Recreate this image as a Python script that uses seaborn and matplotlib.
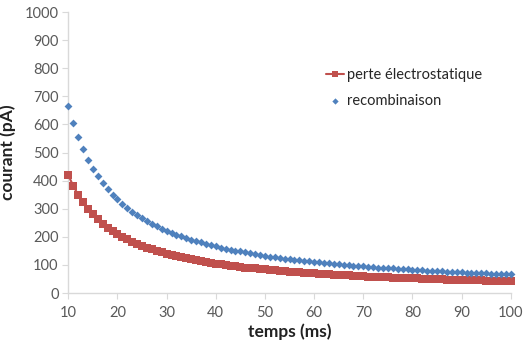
import numpy as np
import pandas as pd
import matplotlib
matplotlib.use("Agg")
import matplotlib.pyplot as plt
import seaborn as sns

# === Data ===
temps = list(range(10, 101))

perte = [420, 382, 350, 323, 300, 280, 263, 247, 233, 221,
         210, 200, 191, 183, 175, 168, 162, 156, 150, 145,
         140, 135, 131, 127, 124, 120, 117, 114, 111, 108,
         105, 102, 100, 98, 95, 93, 91, 89, 88, 86,
         84, 82, 81, 79, 78, 76, 75, 74, 72, 71,
         70, 69, 68, 67, 66, 65, 64, 63, 62, 61,
         60, 59, 58, 58, 57, 56, 55, 55, 54, 53,
         53, 52, 51, 51, 50, 49, 49, 48, 48, 47,
         47, 46, 46, 45, 45, 44, 44, 43, 43, 42,
         42]

recomb = [665, 605, 554, 512, 475, 443, 416, 391, 369, 350,
          333, 317, 302, 289, 277, 266, 256, 246, 238, 229,
          222, 215, 208, 202, 196, 190, 185, 180, 175, 171,
          166, 162, 158, 155, 151, 148, 145, 141, 139, 136,
          133, 130, 128, 125, 123, 121, 119, 117, 115, 113,
          111, 109, 107, 106, 104, 102, 101, 99, 98, 96,
          95, 94, 92, 91, 90, 89, 88, 86, 85, 84,
          83, 82, 81, 80, 79, 78, 77, 76, 76, 75,
          74, 73, 72, 72, 71, 70, 69, 69, 68, 67,
          67]

df = pd.DataFrame({"temps": temps, "perte": perte, "recomb": recomb})

# === Style ===
sns.set_style("white")
plt.rcParams['font.family'] = ['Lato', 'DejaVu Sans']

red = '#C0504D'
blue = '#4F81BD'
grey = '#595959'

fig = plt.figure(figsize=(5.25, 3.44), dpi=100)
ax = fig.add_axes([0.13, 0.148, 0.843, 0.817])

sns.lineplot(data=df, x='temps', y='perte', ax=ax, color=red, marker='s',
             markersize=5.5, markeredgewidth=0, linewidth=1.5,
             label='perte électrostatique', clip_on=False, zorder=3)
sns.scatterplot(data=df, x='temps', y='recomb', ax=ax, color=blue, marker='D',
                s=16, linewidth=0, label='recombinaison', clip_on=False, zorder=3)

ax.set_xlim(10, 100)
ax.set_ylim(0, 1000)
ax.set_xticks(range(10, 101, 10))
ax.set_yticks(range(0, 1001, 100))

for side in ['top', 'right']:
    ax.spines[side].set_visible(False)
for side in ['left', 'bottom']:
    ax.spines[side].set_color('#D9D9D9')
    ax.spines[side].set_linewidth(1)

ax.tick_params(axis='x', which='both', bottom=True, length=4, color='#D9D9D9',
               labelsize=10.5, labelcolor=grey, pad=5)
ax.tick_params(axis='y', which='both', left=True, length=4, color='#D9D9D9',
               labelsize=10.5, labelcolor=grey, pad=3)

ax.set_xlabel('temps (ms)', fontsize=12.5, fontweight='bold', color='#222222', labelpad=3)
ax.set_ylabel('courant (pA)', fontsize=12.5, fontweight='bold', color='#222222', labelpad=6)

ax.legend(loc='upper left', bbox_to_anchor=(0.57, 0.82), frameon=False,
          fontsize=10.5, handlelength=1.2, handletextpad=0.2, labelspacing=0.8,
          borderaxespad=0, markerscale=0.8)

fig.savefig('out.png', dpi=100)
